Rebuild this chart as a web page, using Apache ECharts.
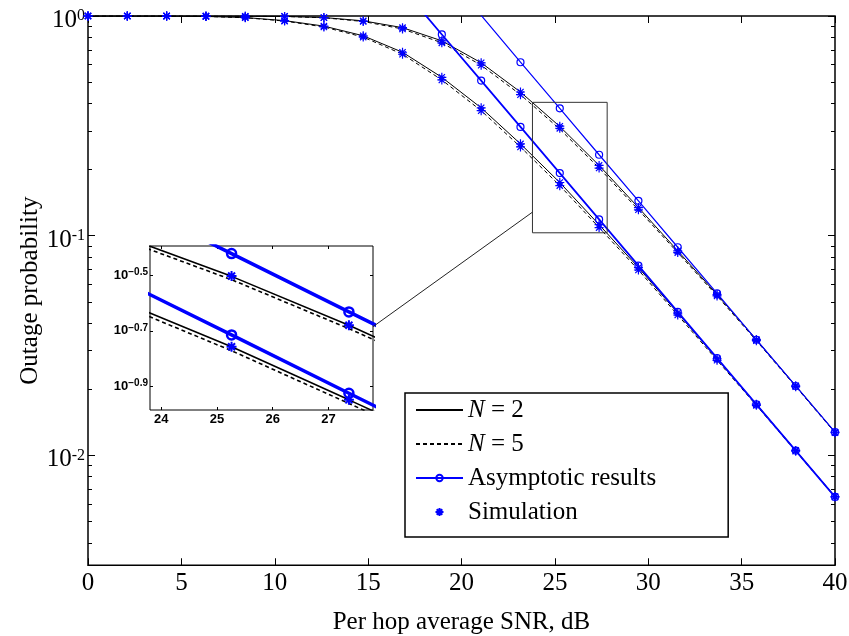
<!DOCTYPE html>
<html><head><meta charset="utf-8">
<script src="https://cdn.jsdelivr.net/npm/echarts@6.0.0/dist/echarts.min.js"></script>
<style>html,body{margin:0;padding:0;background:#fff}#c{width:849px;height:636px}</style>
</head><body><div id="c"></div>
<script>
// ---- data ----
const snr = [0, 2.105, 4.211, 6.316, 8.421, 10.526, 12.632, 14.737, 16.842, 18.947, 21.053, 23.158, 25.263, 27.368, 29.474, 31.579, 33.684, 35.789, 37.895, 40];

// upper group (higher outage)
const upperN2 = [1.0, 1.0, 1.0, 1.0, 0.9977, 0.9954, 0.9840, 0.9506, 0.8851, 0.7709, 0.6124, 0.4508, 0.3141, 0.2089, 0.1343, 0.0853, 0.05395, 0.03365, 0.02075, 0.01276];
const upperN5 = [1.0, 1.0, 1.0, 1.0, 0.9977, 0.9954, 0.9817, 0.9441, 0.8730, 0.7551, 0.5970, 0.4385, 0.3055, 0.2032, 0.1312, 0.08375, 0.0532, 0.03327, 0.02056, 0.01268];
const upperAsym = [null, null, null, null, null, null, null, null, null, 1.624, 1.006, 0.616, 0.3798, 0.2336, 0.1441, 0.0886, 0.0546, 0.0336, 0.0207, 0.01275];
const upperSimA = [1.0, 1.0, 1.0, 1.0, 0.9977, 0.9954, 0.9840, 0.9506, 0.8851, 0.7709, 0.6124, 0.4508, 0.3150, 0.2089, 0.1343, 0.0853, 0.05395, 0.03365, 0.02075, 0.01276];
const upperSimB = [1.0, 1.0, 1.0, 1.0, 0.9977, 0.9954, 0.9817, 0.9441, 0.8730, 0.7551, 0.5970, 0.4385, 0.3080, 0.2032, 0.1312, 0.08375, 0.0532, 0.03327, 0.02056, 0.01268];

// lower group
const lowerN2 = [1.0, 0.9999, 0.9993, 0.9954, 0.9840, 0.9528, 0.8995, 0.8128, 0.6839, 0.5260, 0.3819, 0.2618, 0.1746, 0.1122, 0.0716, 0.04446, 0.02754, 0.0171, 0.01054, 0.0065];
const lowerN5 = [1.0, 0.9999, 0.9993, 0.9954, 0.9817, 0.9484, 0.8913, 0.8017, 0.6699, 0.5117, 0.3707, 0.2535, 0.1690, 0.1089, 0.0698, 0.04355, 0.0271, 0.0169, 0.01045, 0.00646];
const lowerAsym = [null, null, null, null, null, null, null, null, 1.340, 0.824, 0.508, 0.3126, 0.1928, 0.1186, 0.0731, 0.0450, 0.0277, 0.01706, 0.01052, 0.00647];
const lowerSimA = [1.0, 0.9999, 0.9993, 0.9954, 0.9840, 0.9528, 0.8995, 0.8128, 0.6839, 0.5260, 0.3819, 0.2618, 0.1746, 0.1122, 0.0716, 0.04446, 0.02754, 0.0171, 0.01054, 0.0065];
const lowerSimB = [1.0, 0.9999, 0.9993, 0.9954, 0.9817, 0.9484, 0.8913, 0.8017, 0.6699, 0.5117, 0.3707, 0.2535, 0.1690, 0.1089, 0.0698, 0.04355, 0.0271, 0.0169, 0.01045, 0.00646];

// axes / ticks
const xRange = [0, 40];
const xTicks = [0, 5, 10, 15, 20, 25, 30, 35, 40];
const yRange = [0.0031623, 1];
const yMajor = [0.01, 0.1, 1];
const yMinor = [0.004, 0.005, 0.006, 0.007, 0.008, 0.009, 0.02, 0.03, 0.04, 0.05, 0.06, 0.07, 0.08, 0.09, 0.2, 0.3, 0.4, 0.5, 0.6, 0.7, 0.8, 0.9];
const insetX = [23.8, 27.8];
const insetY = [0.1031, 0.4046];
const insetXTicks = [24, 25, 26, 27];
const insetYTicks = [0.12589, 0.19953, 0.31623];
const linkY = [0.2065, 0.128]; // connector: inset right edge -> zoom box left edge

const legendNames = ['N = 2', 'N = 5', 'Asymptotic results', 'Simulation'];
const xTitle = 'Per hop average SNR, dB';
const yTitle = 'Outage probability';

// ---- chart ----
const serif = '"Liberation Serif", "Times New Roman", serif';
const sans = '"Liberation Sans", Arial, sans-serif';
const BLUE = '#0000ff';
const STAR = 'path://M5 0L5 10M0 5L10 5M1.5 1.5L8.5 8.5M1.5 8.5L8.5 1.5';
const pts = arr => arr.map((v, i) => [snr[i], v]);

function curve(name, arr, grid, width, dashed, z) {
  return { type: 'line', name, data: pts(arr), xAxisIndex: grid ? 2 : 0, yAxisIndex: grid ? 4 : 0,
    symbol: 'none', clip: true, silent: true, z: z || 2,
    lineStyle: { color: '#000', width, type: dashed ? [4, 3] : 'solid' }, itemStyle: { color: '#000' } };
}
function asym(name, arr, grid, width, size, bw) {
  return { type: 'line', name, data: pts(arr), xAxisIndex: grid ? 2 : 0, yAxisIndex: grid ? 4 : 0,
    symbol: 'circle', symbolSize: size, showAllSymbol: true, clip: true, silent: true, z: 4,
    lineStyle: { color: BLUE, width }, itemStyle: { color: 'rgba(0,0,0,0)', borderColor: BLUE, borderWidth: bw } };
}
function sim(name, arr, grid, size, bw) {
  return { type: 'scatter', name, data: pts(arr), xAxisIndex: grid ? 2 : 0, yAxisIndex: grid ? 4 : 0,
    symbol: STAR, symbolSize: size, clip: true, silent: true, z: 5,
    itemStyle: { color: BLUE, borderColor: BLUE, borderWidth: bw, opacity: 1 } };
}

const noLine = { show: false, onZero: false };
const yLabelMain = {
  customValues: yMajor, margin: 3, fontSize: 25, fontFamily: serif, color: '#000', padding: [9, 0, 0, 0],
  formatter: v => '{b|10}{s|' + Math.round(Math.log10(v)) + '}',
  rich: { b: { fontFamily: serif, fontSize: 25, color: '#000', lineHeight: 25 },
          s: { fontFamily: serif, fontSize: 16, color: '#000', verticalAlign: 'top', lineHeight: 12 } }
};
const yLabelInset = {
  customValues: insetYTicks, margin: 2, fontSize: 14, fontFamily: sans, fontWeight: 'bold', color: '#000', padding: [0, 0, 0, 0],
  formatter: v => '{b|10}{s|\u2212' + (-Math.log10(v)).toFixed(1) + '}',
  rich: { b: { fontFamily: sans, fontSize: 13, fontWeight: 'bold', color: '#000', lineHeight: 16 },
          s: { fontFamily: sans, fontSize: 10, fontWeight: 'bold', color: '#000', verticalAlign: 'top', lineHeight: 9 } }
};

const option = {
  animation: false,
  backgroundColor: '#fff',
  grid: [
    { left: 88, top: 16, right: 14, bottom: 70.75, outerBoundsMode: 'none', containLabel: false,
      show: true, borderColor: '#000', borderWidth: 1.5, backgroundColor: 'rgba(0,0,0,0)' },
    { left: 150, top: 246, width: 223, height: 164, outerBoundsMode: 'none', containLabel: false,
      show: true, borderColor: '#000', borderWidth: 1, backgroundColor: '#fff' }
  ],
  xAxis: [
    { gridIndex: 0, type: 'value', min: xRange[0], max: xRange[1], interval: 5, position: 'bottom',
      axisLine: noLine, splitLine: { show: false },
      axisTick: { inside: true, length: 7, customValues: xTicks, lineStyle: { color: '#000', width: 1 } },
      axisLabel: { customValues: xTicks, margin: 6, fontSize: 25, fontFamily: serif, color: '#000' },
      name: xTitle, nameLocation: 'middle', nameGap: 45, nameMoveOverlap: false,
      nameTextStyle: { fontSize: 25, fontFamily: serif, color: '#000' } },
    { gridIndex: 0, type: 'value', min: xRange[0], max: xRange[1], interval: 5, position: 'top',
      axisLine: noLine, splitLine: { show: false }, axisLabel: { show: false },
      axisTick: { inside: true, length: 7, customValues: xTicks, lineStyle: { color: '#000', width: 1 } } },
    { gridIndex: 1, type: 'value', min: insetX[0], max: insetX[1], position: 'bottom',
      axisLine: noLine, splitLine: { show: false },
      axisTick: { inside: true, length: 3, customValues: insetXTicks, lineStyle: { color: '#000', width: 1 } },
      axisLabel: { customValues: insetXTicks, margin: 3, fontSize: 13, fontWeight: 'bold', fontFamily: sans, color: '#000' } },
    { gridIndex: 1, type: 'value', min: insetX[0], max: insetX[1], position: 'top',
      axisLine: noLine, splitLine: { show: false }, axisLabel: { show: false },
      axisTick: { inside: true, length: 3, customValues: insetXTicks, lineStyle: { color: '#000', width: 1 } } }
  ],
  yAxis: [
    { gridIndex: 0, type: 'log', logBase: 10, min: yRange[0], max: yRange[1], position: 'left',
      axisLine: noLine, splitLine: { show: false }, minorTick: { show: false },
      axisTick: { inside: true, length: 7, customValues: yMajor, lineStyle: { color: '#000', width: 1 } },
      axisLabel: yLabelMain,
      name: yTitle, nameLocation: 'middle', nameGap: 45, nameRotate: 90, nameMoveOverlap: false,
      nameTextStyle: { fontSize: 25, fontFamily: serif, color: '#000' } },
    { gridIndex: 0, type: 'log', logBase: 10, min: yRange[0], max: yRange[1], position: 'left',
      axisLine: noLine, splitLine: { show: false }, axisLabel: { show: false },
      axisTick: { inside: true, length: 4, customValues: yMinor, lineStyle: { color: '#000', width: 1 } } },
    { gridIndex: 0, type: 'log', logBase: 10, min: yRange[0], max: yRange[1], position: 'right',
      axisLine: noLine, splitLine: { show: false }, axisLabel: { show: false },
      axisTick: { inside: true, length: 7, customValues: yMajor, lineStyle: { color: '#000', width: 1 } } },
    { gridIndex: 0, type: 'log', logBase: 10, min: yRange[0], max: yRange[1], position: 'right',
      axisLine: noLine, splitLine: { show: false }, axisLabel: { show: false },
      axisTick: { inside: true, length: 4, customValues: yMinor, lineStyle: { color: '#000', width: 1 } } },
    { gridIndex: 1, type: 'log', logBase: 10, min: insetY[0], max: insetY[1], position: 'left',
      axisLine: noLine, splitLine: { show: false },
      axisTick: { inside: true, length: 3, customValues: insetYTicks, lineStyle: { color: '#000', width: 1 } },
      axisLabel: yLabelInset },
    { gridIndex: 1, type: 'log', logBase: 10, min: insetY[0], max: insetY[1], position: 'right',
      axisLine: noLine, splitLine: { show: false }, axisLabel: { show: false },
      axisTick: { inside: true, length: 3, customValues: insetYTicks, lineStyle: { color: '#000', width: 1 } } }
  ],
  legend: {
    data: legendNames.map((n, i) => i < 2 ? { name: n, itemStyle: { opacity: 0 } } : { name: n }),
    orient: 'vertical', left: 405, top: 393,
    padding: [3, 72, 11, 10], itemGap: 6, itemWidth: 47, itemHeight: 8,
    borderColor: '#000', borderWidth: 1.5, backgroundColor: '#fff', selectedMode: false,
    textStyle: { fontSize: 25, fontFamily: serif, color: '#000', lineHeight: 28,
      rich: { i: { fontSize: 25, fontFamily: serif, fontStyle: 'italic', color: '#000', lineHeight: 28 } } },
    formatter: n => n.charAt(0) === 'N' ? '{i|N} ' + n.slice(2) : n
  },
  series: [
    curve('N = 2', upperN2, 0, 1),
    curve('N = 2', lowerN2, 0, 1),
    curve('N = 5', upperN5, 0, 1, true),
    curve('N = 5', lowerN5, 0, 1, true),
    asym('Asymptotic results', upperAsym, 0, 1.2, 7, 1.2),
    asym('Asymptotic results', lowerAsym, 0, 1.8, 7, 1.2),
    sim('Simulation', upperSimA, 0, 9, 1.2),
    sim('Simulation', upperSimB, 0, 9, 1.2),
    sim('Simulation', lowerSimA, 0, 9, 1.2),
    sim('Simulation', lowerSimB, 0, 9, 1.2),
    { type: 'line', name: 'zoombox', xAxisIndex: 0, yAxisIndex: 0, symbol: 'none', silent: true, z: 6,
      data: [[insetX[0], insetY[1]], [insetX[1], insetY[1]], [insetX[1], insetY[0]], [insetX[0], insetY[0]], [insetX[0], insetY[1]]],
      lineStyle: { color: '#333', width: 1 } },
    curve('N = 2', upperN2, 1, 1.6),
    curve('N = 2', lowerN2, 1, 1.6),
    curve('N = 5', upperN5, 1, 1.6, true),
    curve('N = 5', lowerN5, 1, 1.6, true),
    asym('Asymptotic results', upperAsym, 1, 3.5, 9, 2.5),
    asym('Asymptotic results', lowerAsym, 1, 3.5, 9, 2.5),
    sim('Simulation', upperSimA, 1, 10, 2),
    sim('Simulation', lowerSimA, 1, 10, 2)
  ]
};

const chart = echarts.init(document.getElementById('c'), null, { renderer: 'canvas' });
chart.setOption(option);
const p1 = chart.convertToPixel({ xAxisIndex: 2, yAxisIndex: 4 }, [insetX[1], linkY[0]]);
const p2 = chart.convertToPixel({ xAxisIndex: 0, yAxisIndex: 0 }, [insetX[0], linkY[1]]);
chart.setOption({ graphic: [{ type: 'line', silent: true, z: 10,
  shape: { x1: p1[0], y1: p1[1], x2: p2[0], y2: p2[1] }, style: { stroke: '#222', lineWidth: 1 } }] });
</script></body></html>
